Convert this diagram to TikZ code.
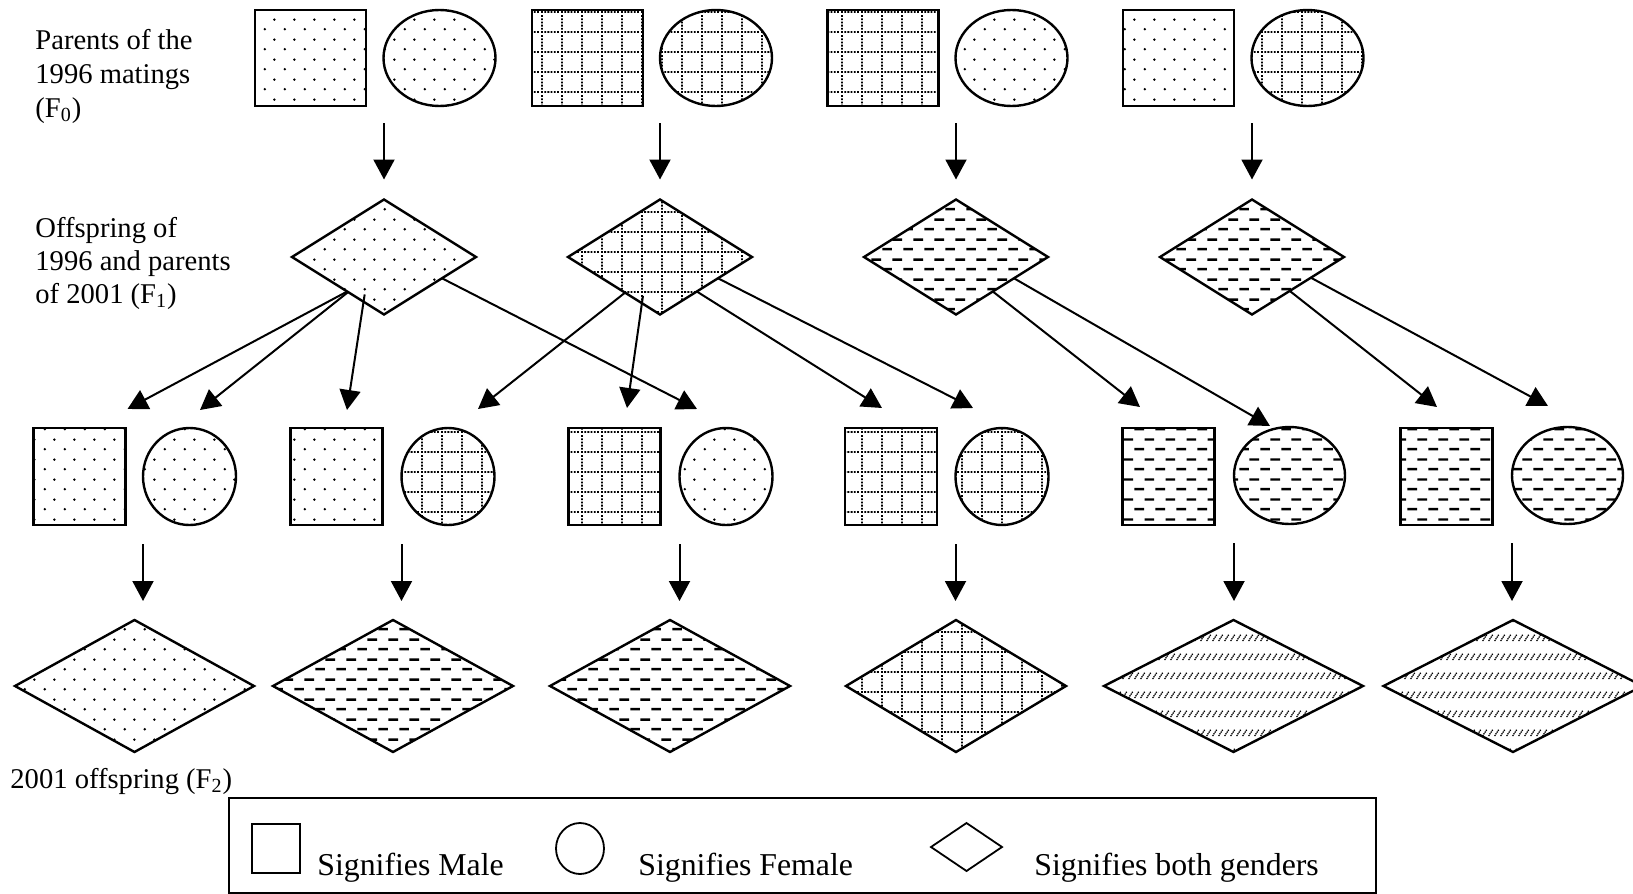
\documentclass[tikz,border=0pt]{standalone}
\usepackage{fontspec}
\setmainfont{Liberation Serif}
\usetikzlibrary{shapes.geometric,arrows.meta,calc,patterns}

% staggered stipple
\pgfdeclarepatternformonly{stipple}{\pgfpoint{0pt}{0pt}}{\pgfpoint{10pt}{10pt}}{\pgfpoint{10pt}{10pt}}{%
  \pgfpathcircle{\pgfpoint{2.5pt}{2.5pt}}{0.7pt}%
  \pgfpathcircle{\pgfpoint{7.5pt}{7.5pt}}{0.7pt}%
  \pgfusepath{fill}}

% grid of dotted lines
\pgfdeclarepatternformonly{dotgrid}{\pgfpoint{0pt}{0pt}}{\pgfpoint{10pt}{10pt}}{\pgfpoint{10pt}{10pt}}{%
  \foreach \k in {0,...,5}{%
    \pgfpathrectangle{\pgfpoint{\k*1.6667pt+0.55pt}{0.55pt}}{\pgfpoint{0.95pt}{0.95pt}}%
    \pgfusepath{fill}}%
  \foreach \k in {1,...,5}{%
    \pgfpathrectangle{\pgfpoint{0.55pt}{\k*1.6667pt+0.55pt}}{\pgfpoint{0.95pt}{0.95pt}}%
    \pgfusepath{fill}}}

% staggered rows of short dashes
\pgfdeclarepatternformonly{dashrows}{\pgfpoint{0pt}{0pt}}{\pgfpoint{10.5pt}{10pt}}{\pgfpoint{10.5pt}{10pt}}{%
  \pgfpathrectangle{\pgfpoint{0.2pt}{1.9pt}}{\pgfpoint{5pt}{1.3pt}}%
  \pgfpathrectangle{\pgfpoint{5.45pt}{6.9pt}}{\pgfpoint{5pt}{1.3pt}}%
  \pgfusepath{fill}}

% rows of small slanted dotted ticks
\pgfdeclarepatternformonly{slantticks}{\pgfpoint{0pt}{0pt}}{\pgfpoint{3pt}{9.5pt}}{\pgfpoint{3pt}{9.5pt}}{%
  \pgfpathcircle{\pgfpoint{0.55pt}{3.4pt}}{0.5pt}%
  \pgfpathcircle{\pgfpoint{1.2pt}{4.3pt}}{0.5pt}%
  \pgfpathcircle{\pgfpoint{1.85pt}{5.2pt}}{0.5pt}%
  \pgfpathcircle{\pgfpoint{2.5pt}{6.1pt}}{0.5pt}%
  \pgfusepath{fill}}

\tikzset{
  shp/.style={draw, line width=1.2pt, inner sep=0pt, outer sep=0pt},
  male1/.style={shp, rectangle, minimum width=55.5pt, minimum height=48pt},
  fem1/.style={shp, ellipse, minimum width=56pt, minimum height=48pt},
  gen1/.style={shp, diamond, minimum width=92pt, minimum height=57.5pt},
  male3/.style={shp, rectangle, minimum width=46pt, minimum height=48.5pt},
  fem3/.style={shp, ellipse, minimum width=#1, minimum height=48.5pt},
  fem3/.default=46.5pt,
  gen3/.style={shp, diamond, minimum width=#1, minimum height=66pt},
  pdots/.style={pattern=stipple},
  pgridd/.style={pattern=dotgrid},
  pdash/.style={pattern=dashrows},
  pslant/.style={pattern=slantticks},
  arr/.style={line width=1pt, -{Triangle[length=10pt,width=10.5pt]}},
  lbl/.style={anchor=base west, inner sep=0pt, font=\fontsize{14.3}{17}\selectfont},
  keytxt/.style={anchor=base west, inner sep=0pt, font=\fontsize{15.9}{18}\selectfont},
  keyshp/.style={draw, line width=0.9pt, inner sep=0pt, outer sep=0pt},
}

\begin{document}
\begin{tikzpicture}[x=0.5pt, y=-0.5pt]
\useasboundingbox (0,0) rectangle (1633,894);

% generation labels
\node[lbl] (l1a) at (35,49) {Parents of the};
\node[lbl] (l1b) at (35,83) {1996 matings};
\node[lbl] (l1c) at (35,117) {(F\textsubscript{0})};
\node[lbl] (l2a) at (35,237) {Offspring of};
\node[lbl] (l2b) at (35,270) {1996 and parents};
\node[lbl] (l2c) at (35,303) {of 2001 (F\textsubscript{1})};
\node[lbl] (l3) at (10,788) {2001 offspring (F\textsubscript{2})};

% F0 parents
\node[male1, pdots]  (S1) at (310.5,58) {};
\node[fem1,  pdots]  (E1) at (439.5,58) {};
\node[male1, pgridd] (S2) at (587.5,58) {};
\node[fem1,  pgridd] (E2) at (716,58) {};
\node[male1, pgridd] (S3) at (883,58) {};
\node[fem1,  pdots]  (E3) at (1011.5,58) {};
\node[male1, pdots]  (S4) at (1178.5,58) {};
\node[fem1,  pgridd] (E4) at (1307.5,58) {};

% F1 offspring
\node[gen1, pdots]  (D1) at (384,257) {};
\node[gen1, pgridd] (D2) at (660,257) {};
\node[gen1, pdash]  (D3) at (956,257) {};
\node[gen1, pdash]  (D4) at (1252,257) {};

\foreach \i in {1,...,4}
  \draw[arr, shorten <=8.5pt, shorten >=10pt] (D\i.north |- E\i.south) -- (D\i.north);

% F1 parents of 2001
\node[male3, pdots]  (SqA) at (79.5,476.5) {};
\node[fem3,  pdots]  (CiA) at (189.5,476.5) {};
\node[male3, pdots]  (SqB) at (336.5,476.5) {};
\node[fem3,  pgridd] (CiB) at (448,476.5) {};
\node[male3, pgridd] (SqC) at (614.5,476.5) {};
\node[fem3,  pdots]  (CiC) at (726,476.5) {};
\node[male3, pgridd] (SqD) at (891,476.5) {};
\node[fem3,  pgridd] (CiD) at (1002,476.5) {};
\node[male3, pdash]  (SqE) at (1168.5,476.5) {};
\node[fem3=55.5pt, pdash] (CiE) at (1289.5,475.5) {};
\node[male3, pdash]  (SqF) at (1446.5,476.5) {};
\node[fem3=55.5pt, pdash] (CiF) at (1567.5,475.5) {};

% arrow tips above the F1 pairs
\coordinate (tA1) at ($(SqA.north east)+(2,-19)$);
\coordinate (tA2) at ($(CiA.north)+(10.5,-18)$);
\coordinate (tB1) at ($(SqB.north)+(10.5,-18)$);
\coordinate (tB2) at ($(CiB.north)+(30,-19)$);
\coordinate (tC1) at ($(SqC.north)+(12.5,-20)$);
\coordinate (tC2) at ($(CiC.north)+(-29,-19)$);
\coordinate (tD1) at ($(SqD.north)+(-9,-20)$);
\coordinate (tD2) at ($(CiD.north)+(-29,-20)$);
\coordinate (tE1) at ($(SqE.north)+(-28.5,-21)$);
\coordinate (tE2) at ($(CiE.north)+(-19.5,-1)$);
\coordinate (tF1) at ($(SqF.north)+(-9.5,-21)$);
\coordinate (tF2) at ($(CiF.north)+(-19.5,-21)$);

% matings of 2001
\draw[arr] ($(D1.west)!0.6!(D1.south)$) -- (tA1);
\draw[arr] ($(D1.west)!0.61!(D1.south)$) -- (tA2);
\draw[arr] ($(D1.west)!0.79!(D1.south)+(0,-8)$) -- (tB1);
\draw[arr] ($(D1.south)!0.63!(D1.east)$) -- (tC2);
\draw[arr] ($(D2.west)!0.62!(D2.south)$) -- (tB2);
\draw[arr] ($(D2.west)!0.815!(D2.south)+(0,-8)$) -- (tC1);
\draw[arr] ($(D2.south)!0.4!(D2.east)$) -- (tD1);
\draw[arr] ($(D2.south)!0.63!(D2.east)$) -- (tD2);
\draw[arr] ($(D3.south)!0.4!(D3.east)$) -- (tE1);
\draw[arr] ($(D3.south)!0.63!(D3.east)$) -- (tE2);
\draw[arr] ($(D4.south)!0.41!(D4.east)$) -- (tF1);
\draw[arr] ($(D4.south)!0.64!(D4.east)$) -- (tF2);

% F2 offspring
\node[gen3=119.5pt, pdots]  (DA) at (134.5,686) {};
\node[gen3=120pt,   pdash]  (DB) at (393,686) {};
\node[gen3=120pt,   pdash]  (DC) at (670,686) {};
\node[gen3=110pt,   pgridd] (DD) at (956,686) {};
\node[gen3=129.5pt, pslant] (DE) at (1233.5,686) {};
\node[gen3=129.5pt, pslant] (DF) at (1513,686) {};

\foreach \c/\d in {CiA/DA, CiB/DB, CiC/DC, CiD/DD, CiE/DE, CiF/DF}
  \draw[arr, shorten <=9.5pt, shorten >=9.5pt] (\c.west |- \c.south) -- (\c.west |- \d.north);

% key
\node[draw, line width=1.2pt, inner sep=0pt, minimum width=573.5pt, minimum height=47.5pt] (key) at (802.5,845.5) {};
\node[keyshp, rectangle, minimum width=24pt, minimum height=24.5pt] (keyS) at (276,848.5) {};
\node[keyshp, ellipse, minimum width=24pt, minimum height=25.5pt] (keyC) at (580,848.5) {};
\node[keyshp, diamond, minimum width=35.5pt, minimum height=24pt] (keyD) at (966.5,847) {};
\node[keytxt] (keySt) at (317,875) {Signifies Male};
\node[keytxt] (keyCt) at (638,875) {Signifies Female};
\node[keytxt] (keyDt) at (1034,875) {Signifies both genders};
\end{tikzpicture}
\end{document}
